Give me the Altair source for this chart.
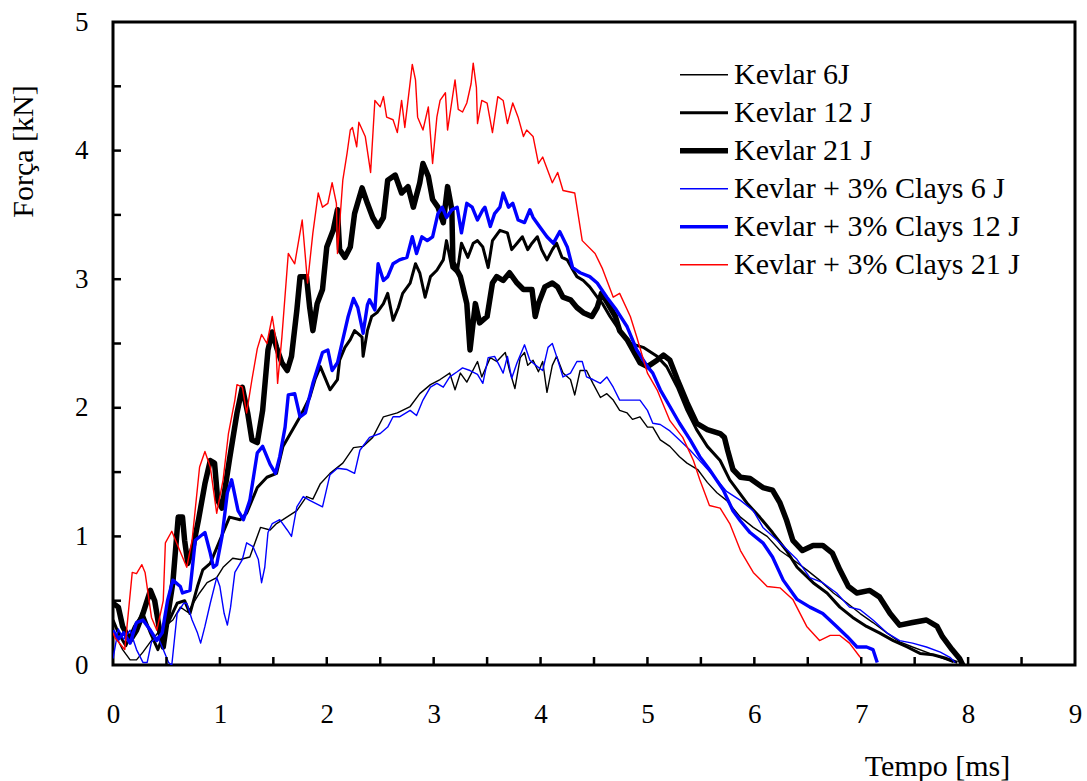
import altair as alt
import pandas as pd

SERIES = ["Kevlar 6J", "Kevlar 12 J", "Kevlar 21 J",
          "Kevlar + 3% Clays 6 J", "Kevlar + 3% Clays 12 J", "Kevlar + 3% Clays 21 J"]
COLORS = ["#000000", "#000000", "#000000", "#0000FF", "#0000FF", "#FF0000"]
WIDTHS = [1.4, 3.0, 5.5, 1.4, 3.4, 1.4]

X_LABELS = [0, 1, 2, 3, 4, 5, 6, 7, 8, 9]
Y_LABELS = [0, 1, 2, 3, 4, 5]
X_TICKS = [0.5, 1, 1.5, 2, 2.5, 3, 3.5, 4, 4.5, 5, 5.5, 6, 6.5, 7, 7.5, 8, 8.5]
Y_TICKS = [0.5, 1, 1.5, 2, 2.5, 3, 3.5, 4, 4.5]

K6 = [(0.00,0.27),(0.09,0.12),(0.16,0.04),(0.22,0.04),(0.28,0.10),(0.35,0.18),(0.44,0.27),(0.56,0.35),(0.63,0.45),(0.70,0.41),(0.75,0.48),(0.81,0.56),(0.88,0.64),(0.97,0.68),(1.03,0.76),(1.12,0.83),(1.19,0.82),(1.28,0.84),(1.38,1.07),(1.47,1.05),(1.53,1.10),(1.59,1.13),(1.72,1.20),(1.81,1.31),(1.87,1.29),(1.94,1.41),(2.03,1.49),(2.15,1.57),(2.25,1.69),(2.34,1.70),(2.43,1.77),(2.53,1.93),(2.66,1.96),(2.78,2.01),(2.87,2.11),(2.97,2.18),(3.06,2.22),(3.15,2.27),(3.20,2.14),(3.25,2.27),(3.31,2.20),(3.41,2.36),(3.45,2.24),(3.53,2.39),(3.59,2.36),(3.67,2.43),(3.71,2.29),(3.76,2.15),(3.81,2.39),(3.85,2.43),(3.88,2.33),(3.93,2.37),(3.98,2.28),(4.02,2.36),(4.06,2.12),(4.11,2.33),(4.15,2.40),(4.21,2.27),(4.28,2.22),(4.32,2.10),(4.37,2.29),(4.43,2.29),(4.49,2.19),(4.56,2.08),(4.62,2.11),(4.68,2.06),(4.74,1.98),(4.81,1.96),(4.86,1.91),(4.93,1.93),(5.00,1.85),(5.05,1.85),(5.12,1.75),(5.21,1.70),(5.30,1.62),(5.37,1.57),(5.47,1.52),(5.56,1.42),(5.65,1.34),(5.74,1.28),(5.87,1.15),(5.99,1.07),(6.12,1.00),(6.24,0.89),(6.36,0.82),(6.49,0.74),(6.61,0.66),(6.74,0.56),(6.87,0.48),(6.99,0.40),(7.11,0.33),(7.24,0.25),(7.36,0.18),(7.48,0.14),(7.61,0.10),(7.74,0.06),(7.86,0.02)]

K12 = [(0.00,0.35),(0.05,0.25),(0.12,0.15),(0.20,0.30),(0.28,0.40),(0.35,0.25),(0.42,0.12),(0.50,0.30),(0.60,0.48),(0.67,0.50),(0.72,0.40),(0.79,0.61),(0.84,0.74),(0.91,0.79),(1.00,0.97),(1.09,1.15),(1.19,1.13),(1.25,1.18),(1.35,1.38),(1.44,1.46),(1.53,1.49),(1.59,1.70),(1.66,1.80),(1.75,1.93),(1.84,2.08),(1.89,2.22),(1.94,2.32),(1.98,2.24),(2.03,2.14),(2.10,2.22),(2.12,2.37),(2.17,2.47),(2.22,2.53),(2.26,2.60),(2.33,2.55),(2.34,2.40),(2.38,2.60),(2.42,2.71),(2.47,2.74),(2.53,2.81),(2.57,2.89),(2.62,2.68),(2.67,2.78),(2.71,2.89),(2.78,2.97),(2.83,3.12),(2.87,3.05),(2.92,2.86),(2.97,3.02),(3.03,3.07),(3.09,3.15),(3.12,3.30),(3.17,3.09),(3.22,3.05),(3.26,3.28),(3.32,3.17),(3.37,3.28),(3.41,3.30),(3.46,3.25),(3.51,3.09),(3.55,3.30),(3.62,3.38),(3.69,3.36),(3.73,3.23),(3.78,3.28),(3.83,3.33),(3.88,3.23),(3.92,3.28),(3.97,3.33),(4.01,3.23),(4.06,3.15),(4.11,3.23),(4.15,3.28),(4.20,3.17),(4.25,3.15),(4.29,3.09),(4.34,3.02),(4.40,2.99),(4.46,2.94),(4.53,2.86),(4.58,2.81),(4.65,2.71),(4.74,2.60),(4.84,2.50),(4.96,2.47),(5.09,2.40),(5.18,2.32),(5.28,2.16),(5.37,1.98),(5.46,1.83),(5.56,1.70),(5.68,1.59),(5.77,1.44),(5.93,1.26),(6.05,1.15),(6.17,1.03),(6.30,0.89),(6.40,0.76),(6.55,0.64),(6.68,0.56),(6.80,0.45),(6.92,0.37),(7.05,0.30),(7.17,0.25),(7.30,0.19),(7.43,0.14),(7.55,0.09),(7.67,0.08),(7.80,0.05),(7.90,0.02)]

K21 = [(0.00,0.48),(0.05,0.45),(0.09,0.30),(0.16,0.19),(0.22,0.27),(0.28,0.40),(0.35,0.58),(0.39,0.50),(0.44,0.25),(0.47,0.14),(0.51,0.37),(0.56,0.64),(0.61,1.15),(0.65,1.15),(0.67,0.97),(0.70,0.79),(0.75,0.92),(0.80,1.13),(0.86,1.41),(0.91,1.59),(0.95,1.57),(0.98,1.28),(1.02,1.22),(1.09,1.60),(1.16,1.96),(1.21,2.16),(1.26,1.96),(1.30,1.75),(1.35,1.73),(1.40,1.98),(1.45,2.45),(1.49,2.59),(1.53,2.47),(1.58,2.35),(1.63,2.29),(1.67,2.40),(1.72,2.76),(1.75,3.02),(1.81,3.02),(1.84,2.78),(1.87,2.60),(1.91,2.81),(1.96,2.92),(2.00,3.25),(2.06,3.38),(2.10,3.54),(2.12,3.23),(2.17,3.17),(2.22,3.25),(2.26,3.51),(2.33,3.71),(2.38,3.59),(2.43,3.48),(2.48,3.41),(2.53,3.48),(2.57,3.77),(2.64,3.81),(2.70,3.67),(2.76,3.72),(2.81,3.56),(2.87,3.75),(2.90,3.90),(2.95,3.80),(2.99,3.62),(3.04,3.56),(3.09,3.44),(3.13,3.72),(3.17,3.54),(3.18,3.13),(3.25,3.02),(3.31,2.81),(3.34,2.45),(3.39,2.81),(3.43,2.66),(3.50,2.71),(3.55,2.97),(3.59,3.02),(3.65,2.99),(3.71,3.05),(3.78,2.97),(3.84,2.92),(3.92,2.92),(3.95,2.71),(3.98,2.81),(4.04,2.94),(4.11,2.97),(4.16,2.94),(4.21,2.86),(4.28,2.84),(4.34,2.78),(4.40,2.74),(4.48,2.71),(4.53,2.78),(4.57,2.89),(4.63,2.81),(4.70,2.71),(4.74,2.60),(4.81,2.53),(4.93,2.35),(5.00,2.32),(5.09,2.37),(5.15,2.41),(5.21,2.37),(5.28,2.22),(5.37,2.04),(5.46,1.88),(5.56,1.83),(5.68,1.80),(5.72,1.77),(5.75,1.67),(5.80,1.52),(5.87,1.46),(5.96,1.45),(6.08,1.38),(6.17,1.36),(6.24,1.26),(6.30,1.13),(6.36,0.97),(6.45,0.89),(6.55,0.93),(6.64,0.93),(6.73,0.87),(6.80,0.74),(6.88,0.61),(6.96,0.56),(7.08,0.58),(7.17,0.53),(7.27,0.40),(7.36,0.31),(7.48,0.33),(7.61,0.35),(7.71,0.30),(7.76,0.22),(7.85,0.12),(7.92,0.05),(7.95,0.00)]

C6 = [(0.00,0.05),(0.05,0.28),(0.10,0.20),(0.16,0.27),(0.22,0.12),(0.28,0.02),(0.32,0.02),(0.36,0.18),(0.42,0.22),(0.47,0.12),(0.52,0.02),(0.55,0.00),(0.60,0.40),(0.66,0.48),(0.69,0.48),(0.74,0.35),(0.79,0.25),(0.82,0.17),(0.86,0.30),(0.91,0.48),(0.97,0.68),(1.00,0.61),(1.04,0.40),(1.07,0.31),(1.10,0.45),(1.14,0.72),(1.21,0.82),(1.25,0.95),(1.31,0.92),(1.36,0.82),(1.39,0.64),(1.42,0.76),(1.45,1.03),(1.49,1.10),(1.56,1.13),(1.63,1.05),(1.67,1.00),(1.72,1.23),(1.78,1.31),(1.84,1.28),(1.96,1.23),(2.03,1.48),(2.10,1.53),(2.19,1.52),(2.26,1.49),(2.31,1.67),(2.40,1.77),(2.50,1.80),(2.57,1.85),(2.62,1.93),(2.68,1.93),(2.78,1.98),(2.84,1.94),(2.90,2.06),(2.97,2.16),(3.03,2.19),(3.09,2.16),(3.15,2.24),(3.22,2.28),(3.27,2.31),(3.34,2.29),(3.41,2.26),(3.46,2.19),(3.51,2.39),(3.57,2.40),(3.62,2.32),(3.65,2.27),(3.69,2.40),(3.73,2.23),(3.78,2.35),(3.83,2.45),(3.85,2.49),(3.90,2.37),(3.97,2.32),(4.02,2.29),(4.07,2.47),(4.11,2.50),(4.15,2.40),(4.21,2.24),(4.28,2.27),(4.34,2.36),(4.39,2.36),(4.43,2.24),(4.49,2.22),(4.56,2.19),(4.62,2.24),(4.68,2.16),(4.74,2.06),(4.84,2.06),(4.93,2.06),(5.00,1.98),(5.05,1.88),(5.12,1.87),(5.21,1.82),(5.30,1.75),(5.40,1.67),(5.52,1.56),(5.65,1.44),(5.74,1.35),(5.87,1.28),(5.99,1.20),(6.08,1.07),(6.24,0.95),(6.40,0.82),(6.52,0.68),(6.64,0.64),(6.77,0.56),(6.89,0.45),(6.99,0.43),(7.11,0.35),(7.24,0.25),(7.36,0.19),(7.48,0.17),(7.61,0.14),(7.74,0.10),(7.83,0.06),(7.88,0.02)]

C12 = [(0.00,0.27),(0.05,0.20),(0.10,0.25),(0.16,0.17),(0.22,0.33),(0.28,0.35),(0.35,0.27),(0.41,0.19),(0.46,0.25),(0.51,0.50),(0.56,0.66),(0.63,0.61),(0.65,0.56),(0.72,0.58),(0.77,0.97),(0.86,1.03),(0.91,0.87),(0.94,0.76),(0.97,0.78),(1.02,1.00),(1.07,1.34),(1.11,1.44),(1.17,1.20),(1.22,1.13),(1.28,1.28),(1.35,1.65),(1.40,1.70),(1.47,1.56),(1.52,1.49),(1.56,1.62),(1.61,1.85),(1.64,2.10),(1.70,2.11),(1.75,1.93),(1.80,1.96),(1.87,2.19),(1.96,2.43),(2.01,2.45),(2.05,2.29),(2.10,2.35),(2.15,2.53),(2.20,2.71),(2.25,2.85),(2.29,2.78),(2.34,2.58),(2.38,2.80),(2.40,2.84),(2.45,2.76),(2.48,3.12),(2.53,2.99),(2.57,3.02),(2.62,3.12),(2.68,3.15),(2.75,3.17),(2.80,3.33),(2.84,3.20),(2.89,3.33),(2.94,3.30),(2.99,3.33),(3.04,3.51),(3.08,3.56),(3.12,3.48),(3.17,3.54),(3.22,3.56),(3.26,3.36),(3.31,3.59),(3.36,3.56),(3.41,3.46),(3.46,3.54),(3.48,3.56),(3.53,3.41),(3.57,3.51),(3.62,3.56),(3.65,3.67),(3.70,3.56),(3.74,3.59),(3.79,3.46),(3.85,3.44),(3.90,3.54),(3.93,3.48),(3.99,3.41),(4.06,3.33),(4.12,3.28),(4.18,3.37),(4.25,3.25),(4.30,3.09),(4.37,3.05),(4.46,3.02),(4.53,2.97),(4.62,2.86),(4.71,2.76),(4.81,2.63),(4.90,2.45),(5.00,2.32),(5.05,2.27),(5.12,2.14),(5.21,2.01),(5.30,1.88),(5.40,1.75),(5.49,1.62),(5.58,1.52),(5.71,1.36),(5.80,1.20),(5.87,1.12),(5.96,1.03),(6.08,0.95),(6.17,0.84),(6.27,0.66),(6.40,0.51),(6.52,0.45),(6.64,0.40),(6.77,0.30),(6.87,0.22),(6.96,0.14),(7.05,0.14),(7.11,0.12),(7.15,0.02)]

C21 = [(0.00,0.25),(0.02,0.21),(0.11,0.12),(0.18,0.72),(0.22,0.71),(0.27,0.78),(0.30,0.72),(0.36,0.37),(0.41,0.27),(0.47,0.50),(0.49,0.95),(0.55,1.04),(0.61,0.92),(0.69,0.76),(0.74,0.97),(0.81,1.54),(0.86,1.66),(0.91,1.54),(0.97,1.18),(1.03,1.44),(1.08,1.80),(1.14,2.06),(1.16,2.18),(1.21,2.16),(1.25,1.96),(1.30,2.22),(1.35,2.46),(1.39,2.57),(1.44,2.50),(1.49,2.71),(1.52,2.55),(1.54,2.19),(1.58,2.55),(1.64,3.20),(1.70,3.12),(1.77,3.46),(1.80,3.17),(1.82,2.97),(1.87,3.36),(1.92,3.67),(1.96,3.56),(2.01,3.59),(2.05,3.75),(2.09,3.59),(2.10,3.20),(2.15,3.77),(2.19,3.98),(2.22,4.16),(2.24,4.18),(2.28,4.03),(2.30,4.22),(2.36,4.11),(2.41,3.83),(2.45,4.39),(2.50,4.34),(2.53,4.42),(2.56,4.26),(2.62,4.24),(2.66,4.14),(2.70,4.39),(2.73,4.18),(2.76,4.39),(2.80,4.67),(2.83,4.55),(2.85,4.26),(2.90,4.16),(2.95,4.34),(2.99,3.90),(3.03,4.26),(3.06,4.39),(3.11,4.45),(3.13,4.16),(3.20,4.55),(3.23,4.32),(3.27,4.30),(3.31,4.37),(3.35,4.52),(3.37,4.68),(3.40,4.49),(3.41,4.21),(3.45,4.39),(3.50,4.37),(3.55,4.14),(3.60,4.42),(3.65,4.39),(3.69,4.21),(3.74,4.37),(3.79,4.26),(3.84,4.11),(3.87,4.16),(3.93,4.11),(3.98,3.90),(4.02,3.95),(4.11,3.75),(4.16,3.83),(4.21,3.69),(4.32,3.67),(4.39,3.30),(4.51,3.20),(4.58,3.08),(4.68,2.86),(4.74,2.89),(4.84,2.71),(4.90,2.55),(5.00,2.27),(5.09,2.14),(5.21,1.90),(5.33,1.77),(5.43,1.59),(5.49,1.44),(5.58,1.24),(5.68,1.22),(5.77,1.10),(5.87,0.89),(5.99,0.72),(6.12,0.61),(6.24,0.60),(6.36,0.51),(6.49,0.30),(6.61,0.19),(6.71,0.23),(6.80,0.23),(6.89,0.17),(6.99,0.06)]

POINTS = [K6, K12, K21, C6, C12, C21]

rows = []
for name, pts in zip(SERIES, POINTS):
    for i, (t, f) in enumerate(pts):
        rows.append({"serie": name, "t": t, "F": f, "i": i})
df = pd.DataFrame(rows)

FONT = "Liberation Serif"
W, H = 962, 643

xscale = alt.Scale(domain=[0, 9], nice=False, zero=False)
yscale = alt.Scale(domain=[0, 5], nice=False, zero=False)

x_axis = alt.Axis(values=X_LABELS, title="Tempo [ms]", grid=False, domain=False,
                  ticks=False, labelPadding=36, labelFontSize=27, labelFont=FONT,
                  labelColor="black", labelFlush=False,
                  titleFont=FONT, titleColor="black",
                  titleFontSize=30, titleFontWeight="normal",
                  titleAnchor="start", titleAlign="center", titleX=824, titleY=110,
                  titleBaseline="alphabetic")
y_axis = alt.Axis(values=Y_LABELS, title="Força [kN]", grid=False, domain=False,
                  ticks=False, labelPadding=25, labelFontSize=27, labelFont=FONT,
                  labelColor="black", labelFlush=False,
                  titleFont=FONT, titleColor="black",
                  titleFontSize=30, titleFontWeight="normal",
                  titleAnchor="start", titleAlign="center", titleX=-81, titleY=129,
                  titleBaseline="alphabetic")

legend = alt.Legend(title=None, orient="none", legendX=564, legendY=34,
                    symbolType="stroke", symbolSize=2304,
                    labelFont=FONT, labelFontSize=30, labelColor="black",
                    labelLimit=600, labelOffset=3, rowPadding=0, clipHeight=37.5,
                    padding=0)

lines = alt.Chart(df).mark_line(strokeJoin="round", clip=True).encode(
    x=alt.X("t:Q", scale=xscale, axis=x_axis),
    y=alt.Y("F:Q", scale=yscale, axis=y_axis),
    color=alt.Color("serie:N", scale=alt.Scale(domain=SERIES, range=COLORS), legend=legend),
    strokeWidth=alt.StrokeWidth("serie:N",
                                scale=alt.Scale(type="ordinal", domain=SERIES, range=WIDTHS),
                                legend=legend),
    order=alt.Order("i:Q"),
)

xt = pd.DataFrame({"t": X_TICKS})
yt = pd.DataFrame({"F": Y_TICKS})

xticks = alt.Chart(xt).mark_rule(color="black", strokeWidth=2.5).encode(
    x=alt.X("t:Q", scale=xscale, axis=x_axis),
    y=alt.value(H), y2=alt.value(H - 8),
)
yticks = alt.Chart(yt).mark_rule(color="black", strokeWidth=2.5).encode(
    y=alt.Y("F:Q", scale=yscale, axis=y_axis),
    x=alt.value(0), x2=alt.value(8),
)

chart = alt.layer(lines, xticks, yticks).properties(
    width=W, height=H,
    background="white",
    autosize=alt.AutoSizeParams(type="none"),
    padding={"left": 113, "top": 22, "right": 12, "bottom": 116},
).configure(font=FONT).configure_view(stroke="black", strokeWidth=3).configure_legend(
    labelFont=FONT
).configure_axis(labelFont=FONT, titleFont=FONT)

chart.save("out.html", embed_options={"renderer": "svg", "actions": False})
